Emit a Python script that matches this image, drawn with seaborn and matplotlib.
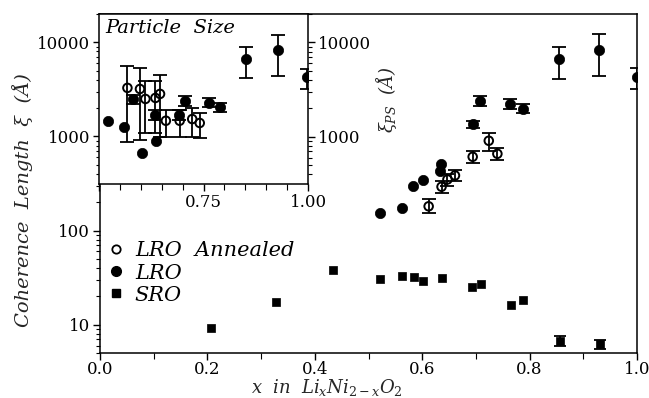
import numpy as np
import pandas as pd
import matplotlib
matplotlib.use("Agg")
import matplotlib.pyplot as plt
from matplotlib.lines import Line2D
from matplotlib.ticker import FixedLocator, LogLocator, NullFormatter, FixedFormatter
import seaborn as sns

# ---------------- data ----------------
# main plot: LRO (filled circles)
lro_x = [0.521, 0.563, 0.582, 0.601, 0.633, 0.635, 0.695, 0.708, 0.764, 0.787, 0.854, 0.930, 1.000]
lro_y = [154, 174, 301, 343, 428, 504, 1343, 2376, 2190, 1972, 6600, 8280, 4310]
lro_lo = [np.nan, np.nan, np.nan, np.nan, np.nan, np.nan, 1239, 2100, 1936, 1757, 4110, 4390, 3210]
lro_hi = [np.nan, np.nan, np.nan, np.nan, np.nan, np.nan, 1455, 2685, 2476, 2188, 9000, 12160, 5280]

# main plot: LRO annealed (open circles)
ann_x = [0.612, 0.636, 0.647, 0.661, 0.694, 0.724, 0.740]
ann_y = [181, 292, 349, 385, 608, 900, 654]
ann_lo = [152, 251, 300, 335, 525, 698, 560]
ann_hi = [214, 334, 400, 440, 698, 1097, 760]

# main plot: SRO (filled squares)
sro_x = [0.206, 0.328, 0.434, 0.521, 0.563, 0.584, 0.602, 0.636, 0.693, 0.709, 0.765, 0.787, 0.856, 0.931]
sro_y = [9.2, 17.4, 38.5, 30.9, 32.7, 31.9, 28.9, 31.4, 25.2, 27.1, 16.3, 18.4, 6.64, 6.24]
sro_lo = [np.nan] * 12 + [5.9, 5.5]
sro_hi = [np.nan] * 12 + [7.5, 6.9]

# inset (particle size): LRO filled
ps_lro_x = [0.522, 0.560, 0.582, 0.602, 0.634, 0.636, 0.691, 0.705, 0.763, 0.789, 0.852, 0.929, 0.998]
ps_lro_y = [1455, 1256, 2500, 681, 1700, 906, 1714, 2376, 2288, 2070, 6600, 8280, 4300]
ps_lro_lo = [np.nan, np.nan, 2200, np.nan, 1500, np.nan, 1520, 2100, 2050, 1850, 4150, 4400, 3200]
ps_lro_hi = [np.nan, np.nan, 2800, np.nan, 1920, np.nan, 1930, 2680, 2550, 2300, 9000, 12100, 5250]

# inset (particle size): LRO annealed open
ps_ann_x = [0.568, 0.598, 0.611, 0.635, 0.646, 0.660, 0.693, 0.723, 0.741]
ps_ann_y = [3297, 3210, 2517, 2580, 2847, 1479, 1479, 1541, 1400]
ps_ann_lo = [879, 929, 1100, 1100, 1000, 1000, 1000, 1000, 968]
ps_ann_hi = [5690, 5370, 3945, 3900, 4570, 1936, 1936, 2018, 1786]

main_xticks = [0.0, 0.2, 0.4, 0.6, 0.8, 1.0]
main_xticklabels = ["0.0", "0.2", "0.4", "0.6", "0.8", "1.0"]
main_yticks = [10, 100, 1000, 10000]
main_yticklabels = ["10", "100", "1000", "10000"]
inset_xticks = [0.5, 0.75, 1.0]
inset_xticklabels = ["", "0.75", "1.00"]
inset_yticks = [1000, 10000]
inset_yticklabels = ["1000", "10000"]
legend_labels = ["LRO  Annealed", "LRO", "SRO"]

# ---------------- style ----------------
sns.set_theme(style="ticks")
plt.rcParams["font.family"] = ["DejaVu Serif", "DejaVu Sans"]
plt.rcParams["mathtext.fontset"] = "dejavuserif"
plt.rcParams["axes.linewidth"] = 1.1
plt.rcParams["axes.edgecolor"] = "black"
plt.rcParams["xtick.color"] = "black"
plt.rcParams["ytick.color"] = "black"
plt.rcParams["text.color"] = "black"

W, H = 649, 398
fig = plt.figure(figsize=(W / 100, H / 100), dpi=100)

def rect(l, r, t, b):
    return [l / W, 1 - b / H, (r - l) / W, (b - t) / H]

ax = fig.add_axes(rect(100, 637, 14, 353))
axi = fig.add_axes(rect(99, 308, 14, 184))

def errs(ax_, x, y, lo, hi, cap):
    x = np.asarray(x, float); y = np.asarray(y, float)
    lo = np.asarray(lo, float); hi = np.asarray(hi, float)
    m = ~np.isnan(lo)
    if m.any():
        ax_.errorbar(x[m], y[m], yerr=[y[m] - lo[m], hi[m] - y[m]], fmt="none",
                     ecolor="black", elinewidth=1.3, capsize=cap, capthick=1.3, zorder=2)

# ---------- main axes ----------
df_lro = pd.DataFrame({"x": lro_x, "y": lro_y})
df_ann = pd.DataFrame({"x": ann_x, "y": ann_y})
df_sro = pd.DataFrame({"x": sro_x, "y": sro_y})

errs(ax, lro_x, lro_y, lro_lo, lro_hi, 5)
errs(ax, ann_x, ann_y, ann_lo, ann_hi, 5)
errs(ax, sro_x, sro_y, sro_lo, sro_hi, 4)

sns.scatterplot(data=df_lro, x="x", y="y", ax=ax, marker="o", s=55, color="black",
                edgecolor="black", linewidth=0.5, zorder=3)
sns.scatterplot(data=df_ann, x="x", y="y", ax=ax, marker="o", s=38, facecolor="none",
                edgecolor="black", linewidth=1.4, zorder=3)
sns.scatterplot(data=df_sro, x="x", y="y", ax=ax, marker="s", s=38, color="black",
                edgecolor="black", linewidth=0.5, zorder=3)

ax.set_yscale("log")
ax.set_xlim(0, 1.0)
ax.set_ylim(5, 20000)
ax.set_xticks(main_xticks)
ax.set_xticklabels(main_xticklabels)
ax.xaxis.set_minor_locator(FixedLocator([0.1, 0.3, 0.5, 0.7, 0.9]))
ax.yaxis.set_major_locator(FixedLocator(main_yticks))
ax.yaxis.set_major_formatter(FixedFormatter(main_yticklabels))
ax.yaxis.set_minor_locator(LogLocator(base=10, subs=np.arange(2, 10)))
ax.yaxis.set_minor_formatter(NullFormatter())
ax.tick_params(axis="both", which="major", direction="out", length=5, width=1.0, labelsize=12,
               top=False, right=False, pad=2)
ax.tick_params(axis="x", which="major", pad=1)
ax.tick_params(axis="both", which="minor", direction="out", length=3, width=0.8,
               top=False, right=False)
ax.tick_params(axis="x", which="minor", length=4)
for s in ax.spines.values():
    s.set_visible(True)

ax.set_xlabel(r"$x\ \ in\ \ Li_xNi_{2-x}O_2$", fontsize=13)
ax.xaxis.set_label_coords(0.423, -0.071)
ax.set_ylabel("Coherence  Length  ξ  (Å)", fontsize=14, style="italic")
ax.yaxis.set_label_coords(-0.125, 0.45)

handles = [
    Line2D([], [], marker="o", linestyle="none", markersize=6, markerfacecolor="none",
           markeredgecolor="black", markeredgewidth=1.3),
    Line2D([], [], marker="o", linestyle="none", markersize=7, color="black"),
    Line2D([], [], marker="s", linestyle="none", markersize=6, color="black"),
]
leg = ax.legend(handles, legend_labels, loc="upper left", bbox_to_anchor=(-0.005, 0.36),
                frameon=False, handlelength=0.8, handletextpad=0.5, labelspacing=0.15,
                borderpad=0, prop={"size": 15, "style": "italic", "family": "DejaVu Serif"})

# ---------- inset ----------
df_pl = pd.DataFrame({"x": ps_lro_x, "y": ps_lro_y})
df_pa = pd.DataFrame({"x": ps_ann_x, "y": ps_ann_y})
axi.set_facecolor("white")
errs(axi, ps_ann_x, ps_ann_y, ps_ann_lo, ps_ann_hi, 5)
errs(axi, ps_lro_x, ps_lro_y, ps_lro_lo, ps_lro_hi, 5)
sns.scatterplot(data=df_pl, x="x", y="y", ax=axi, marker="o", s=55, color="black",
                edgecolor="black", linewidth=0.5, zorder=3)
sns.scatterplot(data=df_pa, x="x", y="y", ax=axi, marker="o", s=38, facecolor="none",
                edgecolor="black", linewidth=1.4, zorder=3)
axi.set_yscale("log")
axi.set_xlim(0.5, 1.0)
axi.set_ylim(316, 20000)
axi.set_xticks(inset_xticks)
axi.set_xticklabels(inset_xticklabels)
axi.xaxis.set_minor_locator(FixedLocator([0.55, 0.60, 0.65, 0.70, 0.80, 0.85, 0.90, 0.95]))
axi.yaxis.tick_right()
axi.yaxis.set_label_position("right")
axi.yaxis.set_major_locator(FixedLocator(inset_yticks))
axi.yaxis.set_major_formatter(FixedFormatter(inset_yticklabels))
axi.yaxis.set_minor_locator(LogLocator(base=10, subs=np.arange(2, 10)))
axi.yaxis.set_minor_formatter(NullFormatter())
axi.tick_params(axis="both", which="major", direction="out", length=5, width=1.0, labelsize=12,
                left=False, top=False, right=True, labelright=True, labelleft=False, pad=2)
axi.tick_params(axis="both", which="minor", direction="out", length=3, width=0.8,
                left=False, top=False, right=True)
axi.tick_params(axis="x", which="minor", length=4)
axi.set_xlabel("")
axi.set_ylabel(r"$\xi_{PS}$  (Å)", fontsize=13, style="italic", rotation=90, labelpad=2)
axi.text(0.03, 0.97, "Particle  Size", transform=axi.transAxes, ha="left", va="top",
         fontsize=14, style="italic")

fig.savefig("out.png", dpi=100, facecolor="white")
